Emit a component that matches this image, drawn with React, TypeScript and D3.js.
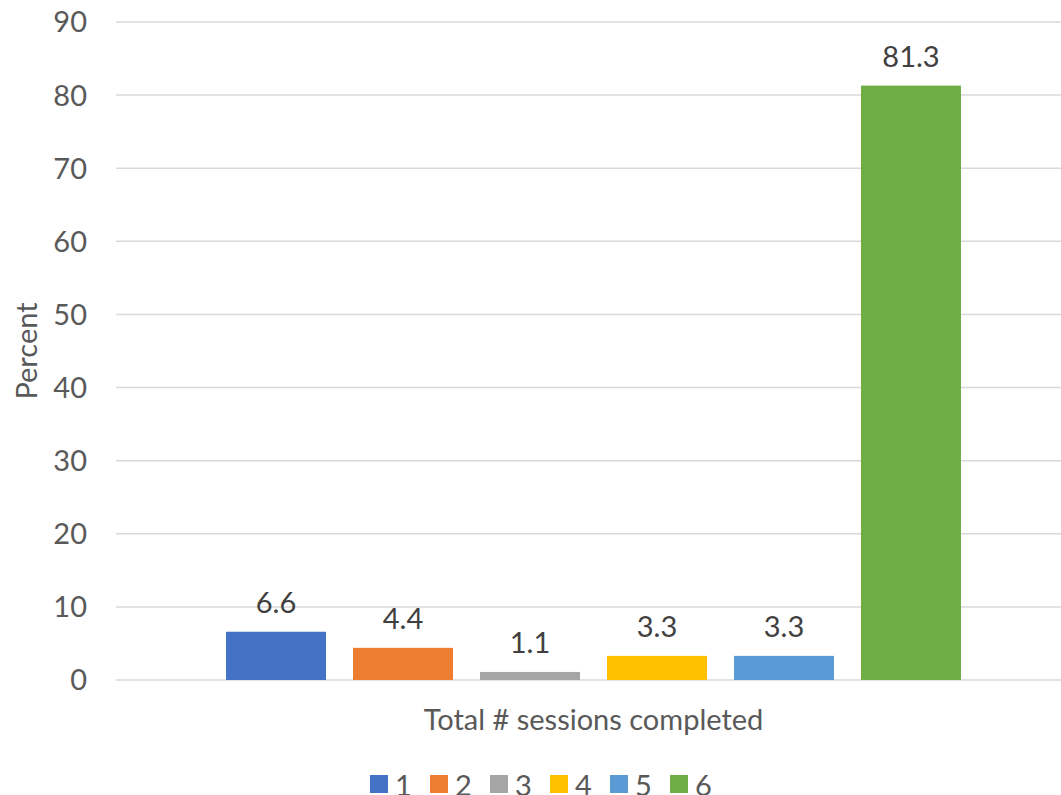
import React, { useEffect, useRef } from 'react';
import * as d3 from 'd3';

// Chart data
const category = 'Total # sessions completed';
const seriesNames = ['1', '2', '3', '4', '5', '6'];
const seriesValues = [6.6, 4.4, 1.1, 3.3, 3.3, 81.3];
const seriesColors = ['#4472C4', '#ED7D31', '#A5A5A5', '#FFC000', '#5B9BD5', '#70AD47'];
const yTicks = [0, 10, 20, 30, 40, 50, 60, 70, 80, 90];

const width = 1061;
const height = 795;
const margin = { top: 22, right: -10, bottom: 115, left: 116 };
const font = 'Lato, "Open Sans", sans-serif';
const fontSize = '29px';

const App = () => {
  const svgRef = useRef<SVGSVGElement | null>(null);

  useEffect(() => {
    if (!svgRef.current) return;
    const svg = d3.select(svgRef.current);
    svg.selectAll('*').remove();

    const innerWidth = width - margin.left - margin.right;
    const innerHeight = height - margin.top - margin.bottom;

    const g = svg
      .append('g')
      .attr('transform', `translate(${margin.left},${margin.top})`);

    const yScale = d3.scaleLinear().domain([0, 90]).range([innerHeight, 0]);

    // Category band and series sub-band
    const x0 = d3
      .scaleBand<string>()
      .domain([category])
      .range([0, innerWidth])
      .paddingInner(0)
      .paddingOuter(0.1497);

    const x1 = d3
      .scaleBand<string>()
      .domain(seriesNames)
      .range([0, x0.bandwidth()])
      .paddingInner(0.2126)
      .paddingOuter(0);

    // Gridlines
    g.selectAll('.grid')
      .data(yTicks)
      .enter()
      .append('line')
      .attr('x1', 0)
      .attr('x2', innerWidth)
      .attr('y1', (d) => yScale(d))
      .attr('y2', (d) => yScale(d))
      .attr('stroke', '#D9D9D9')
      .attr('stroke-width', 1.5);

    // Y tick labels
    g.selectAll('.ytick')
      .data(yTicks)
      .enter()
      .append('text')
      .attr('x', -29)
      .attr('y', (d) => yScale(d))
      .attr('dy', '0.36em')
      .attr('text-anchor', 'end')
      .attr('fill', '#595959')
      .style('font-family', font)
      .style('font-size', fontSize)
      .text((d) => d);

    // Bars
    const group = g
      .append('g')
      .attr('transform', `translate(${x0(category) ?? 0},0)`);

    const bars = seriesNames.map((name, i) => ({
      name,
      value: seriesValues[i],
      color: seriesColors[i],
    }));

    group
      .selectAll('rect')
      .data(bars)
      .enter()
      .append('rect')
      .attr('x', (d) => x1(d.name) ?? 0)
      .attr('y', (d) => yScale(d.value))
      .attr('width', x1.bandwidth())
      .attr('height', (d) => innerHeight - yScale(d.value))
      .attr('fill', (d) => d.color);

    // Data labels
    group
      .selectAll('.label')
      .data(bars)
      .enter()
      .append('text')
      .attr('x', (d) => (x1(d.name) ?? 0) + x1.bandwidth() / 2)
      .attr('y', (d) => yScale(d.value) - 19)
      .attr('text-anchor', 'middle')
      .attr('fill', '#404040')
      .style('font-family', font)
      .style('font-size', fontSize)
      .text((d) => d.value.toFixed(1));

    // Axis titles
    svg
      .append('text')
      .attr('x', margin.left + (x0(category) ?? 0) + x0.bandwidth() / 2)
      .attr('y', 730)
      .attr('text-anchor', 'middle')
      .attr('fill', '#595959')
      .style('font-family', font)
      .style('font-size', fontSize)
      .text(category);

    svg
      .append('text')
      .attr('transform', `translate(37,${margin.top + innerHeight / 2}) rotate(-90)`)
      .attr('text-anchor', 'middle')
      .attr('fill', '#595959')
      .style('font-family', font)
      .style('font-size', fontSize)
      .text('Percent');

    // Legend
    const legendX = d3.scalePoint<string>().domain(seriesNames).range([370, 670]);
    const legend = svg
      .selectAll('.legend')
      .data(bars)
      .enter()
      .append('g')
      .attr('transform', (d) => `translate(${legendX(d.name) ?? 0},775)`);

    legend
      .append('rect')
      .attr('width', 18)
      .attr('height', 18)
      .attr('fill', (d) => d.color);

    legend
      .append('text')
      .attr('x', 25)
      .attr('y', 21)
      .attr('fill', '#595959')
      .style('font-family', font)
      .style('font-size', fontSize)
      .text((d) => d.name);
  }, []);

  return (
    <svg
      ref={svgRef}
      width={width}
      height={height}
      style={{ position: 'absolute', left: 0, top: 0, background: '#fff' }}
    />
  );
};

export default App;
